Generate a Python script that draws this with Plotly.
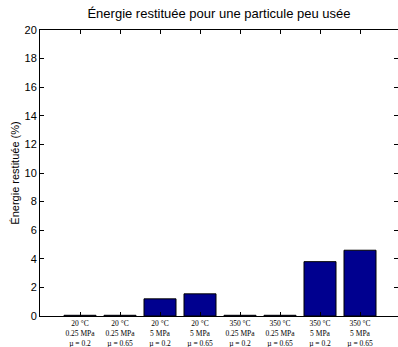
import plotly.graph_objects as go

positions = [1, 2, 3, 4, 5, 6, 7, 8]
values = [0.05, 0.05, 1.2, 1.55, 0.05, 0.05, 3.8, 4.6]
tick_labels = [
    "20 °C<br>0.25 MPa<br>µ = 0.2",
    "20 °C<br>0.25 MPa<br>µ = 0.65",
    "20 °C<br>5 MPa<br>µ = 0.2",
    "20 °C<br>5 MPa<br>µ = 0.65",
    "350 °C<br>0.25 MPa<br>µ = 0.2",
    "350 °C<br>0.25 MPa<br>µ = 0.65",
    "350 °C<br>5 MPa<br>µ = 0.2",
    "350 °C<br>5 MPa<br>µ = 0.65",
]
y_ticks = [0, 2, 4, 6, 8, 10, 12, 14, 16, 18, 20]

fig = go.Figure()
fig.add_trace(go.Bar(
    x=positions, y=values, width=0.8,
    marker=dict(color="#00008F", line=dict(color="black", width=1)),
))

fig.update_layout(
    width=398, height=347,
    margin=dict(l=40, r=0, t=30, b=31, autoexpand=False),
    paper_bgcolor="white", plot_bgcolor="white",
    showlegend=False,
    title=dict(text="Énergie restituée pour une particule peu usée",
               x=0.5, xref="paper", y=0.96, yref="container",
               xanchor="center", yanchor="middle",
               font=dict(family="Liberation Sans, Arial", size=13, color="black")),
    font=dict(family="Liberation Sans, Arial", size=11, color="black"),
)
fig.update_xaxes(
    range=[0, 8.95], tickvals=positions, ticktext=tick_labels,
    tickfont=dict(family="Liberation Serif, Times New Roman", size=7.5, color="black"),
    ticks="inside", ticklen=4, tickcolor="black",
    showline=True, linecolor="black", linewidth=1, mirror="ticks",
    showgrid=False, zeroline=False, automargin=False,
)
fig.update_yaxes(
    range=[0, 20], tickvals=y_ticks,
    tickfont=dict(family="Liberation Sans, Arial", size=11, color="black"),
    ticks="inside", ticklen=4, tickcolor="black",
    showline=True, linecolor="black", linewidth=1, mirror="ticks",
    showgrid=False, zeroline=False, automargin=False,
    title=dict(text="Énergie restituée (%)", standoff=2,
               font=dict(family="Liberation Sans, Arial", size=11, color="black")),
)

fig.write_html("out.html", config={"displayModeBar": False},
               post_script="document.body.style.margin='0px';")
